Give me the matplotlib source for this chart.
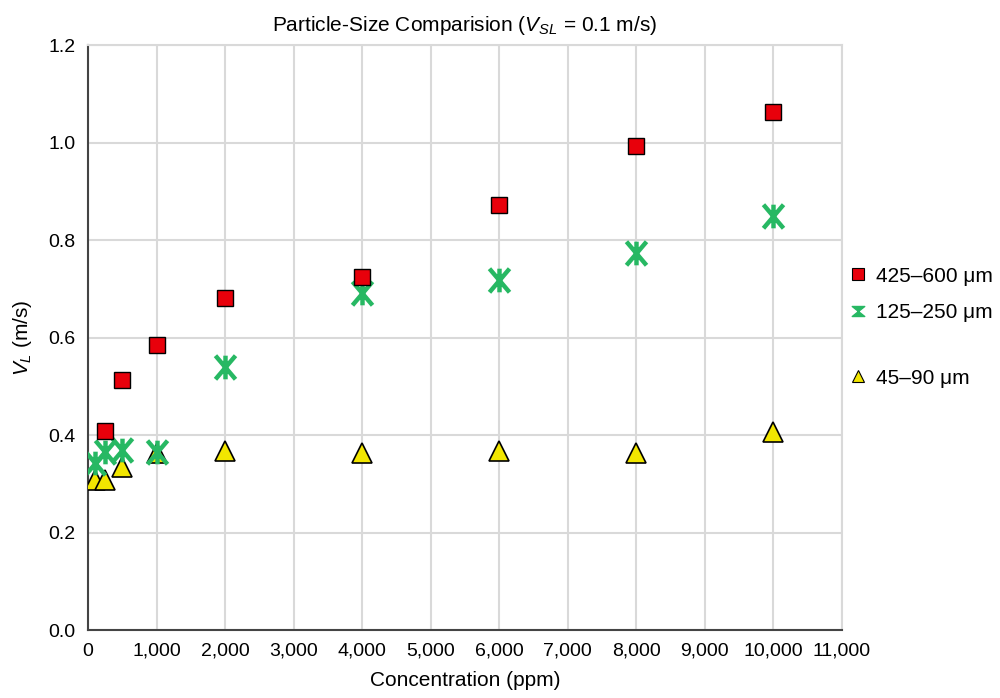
import matplotlib
matplotlib.use('Agg')
import matplotlib.pyplot as plt
from matplotlib.lines import Line2D
from matplotlib.path import Path

plt.rcParams['font.family'] = ['Liberation Sans', 'DejaVu Sans']
plt.rcParams['mathtext.fontset'] = 'custom'
plt.rcParams['mathtext.rm'] = 'Liberation Sans'
plt.rcParams['mathtext.it'] = 'Liberation Sans:italic'

# concentration (ppm) and V_L (m/s) for each particle size range
conc_large = [250, 500, 1000, 2000, 4000, 6000, 8000, 10000]
vl_large = [0.408, 0.513, 0.585, 0.681, 0.724, 0.872, 0.993, 1.063]

conc_mid = [100, 250, 500, 1000, 2000, 4000, 6000, 8000, 10000]
vl_mid = [0.343, 0.365, 0.369, 0.365, 0.540, 0.691, 0.718, 0.773, 0.849]

conc_small = [100, 250, 500, 1000, 2000, 4000, 6000, 8000, 10000]
vl_small = [0.308, 0.308, 0.334, 0.363, 0.367, 0.363, 0.367, 0.363, 0.406]

labels = ['425\u2013600 \u03bcm', '125\u2013250 \u03bcm', '45\u201390 \u03bcm']

# star marker: an X with a vertical bar through it
star = Path([(0, -1), (0, 1), (-0.85, -1), (0.85, 1), (-0.85, 1), (0.85, -1)],
            [Path.MOVETO, Path.LINETO, Path.MOVETO, Path.LINETO, Path.MOVETO, Path.LINETO])
hourglass = Path([(-1, 0.8), (1, 0.8), (-1, -0.8), (1, -0.8), (-1, 0.8)],
                 [Path.MOVETO, Path.LINETO, Path.LINETO, Path.LINETO, Path.CLOSEPOLY])

fig = plt.figure(figsize=(10, 6.98), dpi=100)
ax = fig.add_axes([0.088, 0.0974, 0.754, 0.8381])

ax.plot(conc_small, vl_small, linestyle='none', marker='^', markersize=14,
        markerfacecolor='#f2e600', markeredgecolor='black', markeredgewidth=1.2, zorder=3)
ax.plot(conc_mid, vl_mid, linestyle='none', marker=star, markersize=17,
        markeredgecolor='#27b863', markeredgewidth=3.2, zorder=4)
ax.plot(conc_large, vl_large, linestyle='none', marker='s', markersize=11,
        markerfacecolor='#e8000b', markeredgecolor='black', markeredgewidth=1.0, zorder=5)

ax.set_xlim(0, 11000)
ax.set_ylim(0, 1.2)
ax.set_xticks(range(0, 11001, 1000))
ax.set_xticklabels(['{:,}'.format(v) for v in range(0, 11001, 1000)])
ax.set_yticks([0, 0.2, 0.4, 0.6, 0.8, 1.0, 1.2])
ax.set_yticklabels(['0.0', '0.2', '0.4', '0.6', '0.8', '1.0', '1.2'])
ax.tick_params(length=0, labelsize=14, pad=9)
ax.grid(True, color='#d9d9d9', linewidth=1.5)
ax.set_axisbelow(True)
for s in ['top', 'right']:
    ax.spines[s].set_color('#d9d9d9')
    ax.spines[s].set_linewidth(1.5)
for s in ['left', 'bottom']:
    ax.spines[s].set_color('#444444')
    ax.spines[s].set_linewidth(1.5)

ax.set_xlabel('Concentration (ppm)', fontsize=15, labelpad=8)
ax.set_ylabel('$V_L$ (m/s)', fontsize=15, labelpad=10)
ax.set_title('Particle-Size Comparision ($V_{SL}$ = 0.1 m/s)', fontsize=15, pad=10)

# legend entries placed one by one on the right side
handles = [
    Line2D([], [], linestyle='none', marker='s', markersize=9,
           markerfacecolor='#e8000b', markeredgecolor='black', markeredgewidth=0.8),
    Line2D([], [], linestyle='none', marker=hourglass, markersize=9,
           markerfacecolor='#27b863', markeredgecolor='#27b863', markeredgewidth=1.0),
    Line2D([], [], linestyle='none', marker='^', markersize=9,
           markerfacecolor='#f2e600', markeredgecolor='black', markeredgewidth=0.8),
]
ypos = [1 - 276 / 698, 1 - 313 / 698, 1 - 378 / 698]
for h, lab, y in zip(handles, labels, ypos):
    fig.legend(handles=[h], labels=[lab], loc='center left', bbox_to_anchor=(0.851, y),
               frameon=False, fontsize=15, handlelength=0.7, handletextpad=0.5,
               borderpad=0, borderaxespad=0)

plt.savefig('out.png', dpi=100)
